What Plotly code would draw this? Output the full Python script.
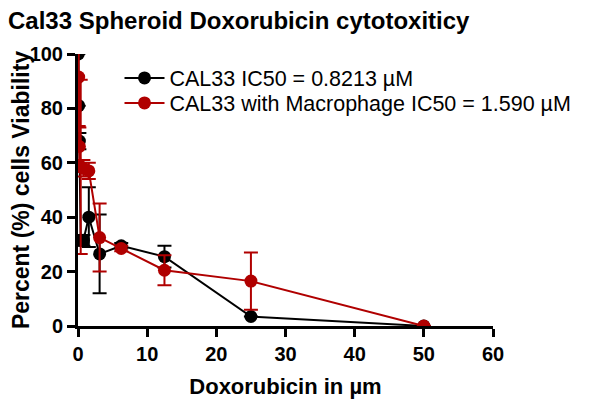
import plotly.graph_objects as go

# doses (uM) and viability (%)
cal33_dose = [0.05, 0.1, 0.2, 0.39, 0.78, 1.5625, 3.125, 6.25, 12.5, 25, 50]
cal33_viab = [100, 81, 68, 31.5, 31.5, 40, 26.5, 29.5, 25.5, 3.5, 0]
cal33_err = [0, 0, 3, 0, 2, 11, 14.5, 1, 4, 0, 0]

mac_dose = [0.1, 0.2, 0.39, 0.78, 1.5625, 3.125, 6.25, 12.5, 25, 50]
mac_viab = [91.5, 66, 58.5, 58, 57, 32.5, 28.5, 20.5, 16.5, 0]
mac_err = [18, 7, 32, 3, 3, 12.5, 1, 5.5, 10.5, 0]

x_ticks = [0, 10, 20, 30, 40, 50, 60]
y_ticks = [0, 20, 40, 60, 80, 100]

BLACK = "#000000"
RED = "#B00000"
FONT = "Liberation Sans, Arial, sans-serif"

fig = go.Figure()
fig.add_scatter(
    x=cal33_dose,
    y=cal33_viab,
    error_y=dict(type="data", array=cal33_err, color=BLACK, thickness=2, width=7),
    name="CAL33 IC50 = 0.8213 µM",
    mode="lines+markers",
    line=dict(color=BLACK, width=2),
    marker=dict(color=BLACK, size=13),
    legend="legend",
)
fig.add_scatter(
    x=mac_dose,
    y=mac_viab,
    error_y=dict(type="data", array=mac_err, color=RED, thickness=2, width=7),
    name="CAL33 with Macrophage IC50 = 1.590 µM",
    mode="lines+markers",
    line=dict(color=RED, width=2),
    marker=dict(color=RED, size=13),
    legend="legend2",
)

# one legend per series so the row spacing can match the reference
legend_style = dict(
    xanchor="left", yanchor="middle",
    font=dict(family=FONT, size=21.5, color="black"),
    bgcolor="rgba(0,0,0,0)",
    itemwidth=40,
)

# page body adds an 8px margin, so the figure is drawn 8px smaller
fig.update_layout(
    width=588,
    height=392,
    margin=dict(l=70, r=103, t=46, b=74),
    paper_bgcolor="white",
    plot_bgcolor="white",
    font=dict(family=FONT, color="black"),
    title=dict(
        text="Cal33 Spheroid Doxorubicin cytotoxiticy",
        font=dict(family=FONT, size=24, color="black", weight="bold"),
        xref="container", x=0, xanchor="left",
        yref="container", y=0.967, yanchor="middle",
    ),
    legend=dict(x=0.1, y=0.912, **legend_style),
    legend2=dict(x=0.1, y=0.82, **legend_style),
    showlegend=True,
)
fig.update_xaxes(
    range=[0, 60],
    tickvals=x_ticks,
    automargin=False,
    showline=True, linecolor="black", linewidth=3,
    ticks="outside", ticklen=8, tickwidth=3, tickcolor="black",
    showgrid=False, zeroline=False,
    tickfont=dict(family=FONT, size=20, color="black", weight="bold"),
    title=dict(text="Doxorubicin in µm", font=dict(family=FONT, size=22, weight="bold")),
)
fig.update_yaxes(
    range=[0, 100],
    tickvals=y_ticks,
    automargin=False,
    showline=True, linecolor="black", linewidth=3,
    ticks="outside", ticklen=8, tickwidth=3, tickcolor="black",
    showgrid=False, zeroline=False,
    tickfont=dict(family=FONT, size=20, color="black", weight="bold"),
    title=dict(text="Percent (%) cells Viability", font=dict(family=FONT, size=23, weight="bold")),
)

fig.write_html("out.html")
